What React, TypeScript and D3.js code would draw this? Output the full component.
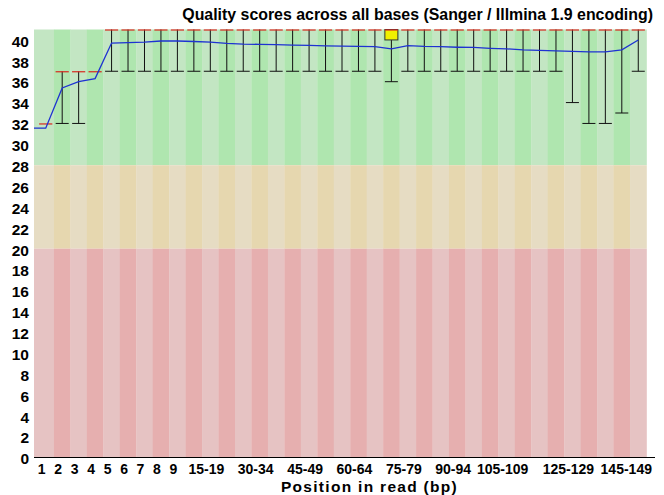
import React, { useEffect } from "react";
import * as d3 from "d3";

const categories = [
  "1", "2", "3", "4", "5", "6", "7", "8", "9",
  "10-14", "15-19", "20-24", "25-29", "30-34", "35-39", "40-44", "45-49",
  "50-54", "55-59", "60-64", "65-69", "70-74", "75-79", "80-84", "85-89",
  "90-94", "95-99", "100-104", "105-109", "110-114", "115-119", "120-124",
  "125-129", "130-134", "135-139", "140-144", "145-149",
];

// mean quality (blue line)
const means = [
  31.55, 35.4, 36.0, 36.3, 39.7, 39.75, 39.8, 39.9, 39.9,
  39.85, 39.8, 39.68, 39.6, 39.58, 39.55, 39.5, 39.47,
  39.43, 39.4, 39.38, 39.36, 39.15, 39.45, 39.38, 39.35,
  39.3, 39.28, 39.2, 39.15, 39.05, 39.0, 38.95,
  38.9, 38.85, 38.85, 39.05, 40.0,
];

const medians = [
  32, 37, 37, 37, 41, 41, 41, 41, 41,
  41, 41, 41, 41, 41, 41, 41, 41,
  41, 41, 41, 41, 41, 41, 41, 41,
  41, 41, 41, 41, 41, 41, 41,
  41, 41, 41, 41, 41,
];

const lowerQuartile = [
  32, 37, 37, 37, 41, 41, 41, 41, 41,
  41, 41, 41, 41, 41, 41, 41, 41,
  41, 41, 41, 41, 40, 41, 41, 41,
  41, 41, 41, 41, 41, 41, 41,
  41, 41, 41, 41, 41,
];

const upperQuartile = [
  32, 37, 37, 37, 41, 41, 41, 41, 41,
  41, 41, 41, 41, 41, 41, 41, 41,
  41, 41, 41, 41, 41, 41, 41, 41,
  41, 41, 41, 41, 41, 41, 41,
  41, 41, 41, 41, 41,
];

// 10th percentile
const lowerWhisker = [
  32, 32, 32, 37, 37, 37, 37, 37, 37,
  37, 37, 37, 37, 37, 37, 37, 37,
  37, 37, 37, 37, 36, 37, 37, 37,
  37, 37, 37, 37, 37, 37, 37,
  34, 32, 32, 33, 37,
];

// 90th percentile
const upperWhisker = [
  32, 37, 37, 37, 41, 41, 41, 41, 41,
  41, 41, 41, 41, 41, 41, 41, 41,
  41, 41, 41, 41, 41, 41, 41, 41,
  41, 41, 41, 41, 41, 41, 41,
  41, 41, 41, 41, 41,
];

const xTickLabels = [
  "1", "2", "3", "4", "5", "6", "7", "8", "9",
  "15-19", "30-34", "45-49", "60-64", "75-79", "90-94", "105-109", "125-129", "145-149",
];

const yTicks = d3.range(0, 41, 2);

// quality zones: [from, to, light colour, dark colour]
const zones: [number, number, string, string][] = [
  [28, 41, "rgb(195,230,195)", "rgb(175,230,175)"],
  [20, 28, "rgb(230,220,195)", "rgb(230,215,175)"],
  [0, 20, "rgb(230,195,195)", "rgb(230,175,175)"],
];

const W = 664;
const H = 495;
const plotLeft = 34;
const colLeft = 37.5;
const colRight = 646.5;
const font = "'Liberation Sans', Arial, Helvetica, sans-serif";

export default function App() {
  useEffect(() => {
    document.body.style.margin = "0";
  }, []);

  const x = d3.scaleBand().domain(categories).range([colLeft, colRight]).padding(0);
  const y = d3.scaleLinear().domain([0, 41]).range([457.5, 29.5]);
  const bw = x.bandwidth();
  const cx = (c: string) => (x(c) as number) + bw / 2;

  // mean line starts flat at the left edge of the plot
  const meanPts: [number, number][] = [[plotLeft, y(means[0])]].concat(
    means.map((d, i) => [cx(categories[i]), y(d)] as [number, number])
  ) as [number, number][];
  const meanLine = d3.line();

  return (
    <svg width={W} height={H} style={{ display: "block" }} fontFamily={font}>
      <rect width={W} height={H} fill="#fff" />
      {/* background stripes */}
      {categories.map((c, i) =>
        zones.map(([lo, hi, light, dark], k) => {
          const x0 = i === 0 ? plotLeft : (x(c) as number);
          const x1 = (x(c) as number) + bw;
          return (
            <rect
              key={`${c}-${k}`}
              x={x0}
              y={y(hi)}
              width={x1 - x0 + 0.3}
              height={y(lo) - y(hi)}
              fill={i % 2 === 0 ? light : dark}
            />
          );
        })
      )}

      {/* whiskers and boxes */}
      {categories.map((c, i) => {
        const m = cx(c);
        return (
          <g key={`w-${c}`} stroke="#111" strokeWidth={1}>
            {lowerWhisker[i] < lowerQuartile[i] && (
              <>
                <line x1={m} x2={m} y1={y(lowerWhisker[i])} y2={y(lowerQuartile[i])} />
                <line x1={m - 6.5} x2={m + 6.5} y1={y(lowerWhisker[i])} y2={y(lowerWhisker[i])} />
              </>
            )}
            {upperWhisker[i] > upperQuartile[i] && (
              <>
                <line x1={m} x2={m} y1={y(upperWhisker[i])} y2={y(upperQuartile[i])} />
                <line x1={m - 6.5} x2={m + 6.5} y1={y(upperWhisker[i])} y2={y(upperWhisker[i])} />
              </>
            )}
            {upperQuartile[i] > lowerQuartile[i] && (
              <rect
                x={m - 6.5}
                y={y(upperQuartile[i])}
                width={13}
                height={y(lowerQuartile[i]) - y(upperQuartile[i])}
                fill="rgb(240,240,0)"
                stroke="#333"
              />
            )}
          </g>
        );
      })}

      {/* medians */}
      {categories.map((c, i) => (
        <line
          key={`m-${c}`}
          x1={cx(c) - 6.6}
          x2={cx(c) + 6.6}
          y1={y(medians[i]) + 0.5}
          y2={y(medians[i]) + 0.5}
          stroke="rgb(215,40,30)"
          strokeWidth={1.2}
        />
      ))}

      {/* mean */}
      <path d={meanLine(meanPts) ?? ""} fill="none" stroke="rgb(30,50,210)" strokeWidth={1.3} />

      {/* x axis line */}
      <line x1={plotLeft} x2={655} y1={457.5} y2={457.5} stroke="#000" strokeWidth={1} />

      {/* y tick labels */}
      {yTicks.map((t) => (
        <text
          key={`y-${t}`}
          x={29}
          y={y(t) + 6.8}
          textAnchor="end"
          fontSize={15.5}
          fontWeight="bold"
          fill="#000"
        >
          {t}
        </text>
      ))}

      {/* x tick labels */}
      {xTickLabels.map((lab) => {
        const approxW = lab.length * 7.35;
        let c = cx(lab) - 4;
        if (c + approxW / 2 > 652) c = 652 - approxW / 2;
        return (
          <text
            key={`x-${lab}`}
            x={c}
            y={474}
            textAnchor="middle"
            fontSize={14}
            fontWeight="bold"
            fill="#000"
          >
            {lab}
          </text>
        );
      })}

      <text
        x={369.5}
        y={491.5}
        textAnchor="middle"
        fontSize={15.5}
        letterSpacing={1.3}
        fontWeight="bold"
        fill="#000"
      >
        Position in read (bp)
      </text>

      <text x={653} y={20} textAnchor="end" fontSize={15.9} fontWeight="bold" fill="#000">
        Quality scores across all bases (Sanger / Illmina 1.9 encoding)
      </text>
    </svg>
  );
}
